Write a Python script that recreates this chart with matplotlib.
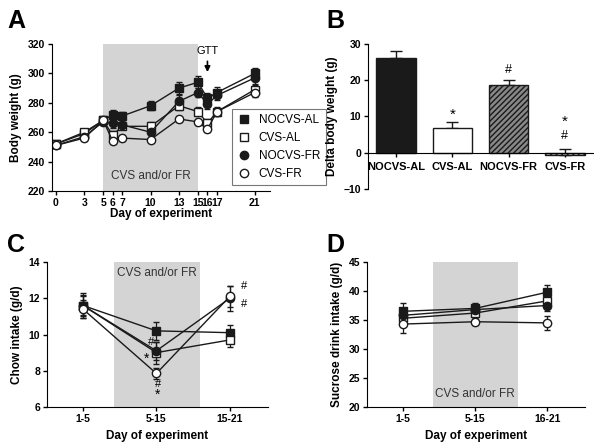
import matplotlib
matplotlib.use("Agg")
import matplotlib.pyplot as plt
from matplotlib.lines import Line2D
import numpy as np

plt.rcParams['font.family'] = ['Liberation Sans', 'DejaVu Sans']

groups = ['NOCVS-AL', 'CVS-AL', 'NOCVS-FR', 'CVS-FR']

# panel A: body weight
days = [0, 3, 5, 6, 7, 10, 13, 15, 16, 17, 21]
bw = {
    'NOCVS-AL': [252, 259, 268, 272, 271, 278, 290, 294, 283, 287, 300],
    'CVS-AL':   [252, 260, 268, 258, 264, 264, 278, 274, 266, 274, 289],
    'NOCVS-FR': [251, 257, 267, 266, 265, 260, 281, 287, 279, 285, 297],
    'CVS-FR':   [251, 256, 268, 254, 256, 255, 269, 267, 262, 274, 287],
}
bw_err = {
    'NOCVS-AL': [2, 2, 2, 3, 3, 3, 4, 4, 4, 4, 4],
    'CVS-AL':   [2, 2, 2, 3, 2, 3, 3, 3, 3, 3, 3],
    'NOCVS-FR': [2, 2, 2, 3, 3, 3, 4, 3, 3, 3, 4],
    'CVS-FR':   [2, 2, 2, 2, 2, 2, 2, 2, 2, 2, 3],
}

# panel B: delta body weight
delta = [26.0, 6.8, 18.8, -0.7]
delta_err = [2.0, 1.8, 1.2, 1.8]

# panel C: chow intake
periods_c = ['1-5', '5-15', '15-21']
chow = {
    'NOCVS-AL': [11.6, 10.2, 10.1],
    'CVS-AL':   [11.6, 9.0, 9.7],
    'NOCVS-FR': [11.6, 9.1, 12.0],
    'CVS-FR':   [11.4, 7.85, 12.1],
}
chow_err = {
    'NOCVS-AL': [0.7, 0.5, 0.4],
    'CVS-AL':   [0.5, 0.6, 0.4],
    'NOCVS-FR': [0.6, 0.5, 0.7],
    'CVS-FR':   [0.5, 0.3, 0.6],
}

# panel D: sucrose intake
periods_d = ['1-5', '5-15', '16-21']
sucrose = {
    'NOCVS-AL': [36.5, 37.0, 39.8],
    'CVS-AL':   [35.3, 36.2, 38.3],
    'NOCVS-FR': [35.8, 36.8, 37.5],
    'CVS-FR':   [34.3, 34.7, 34.5],
}
sucrose_err = {
    'NOCVS-AL': [1.5, 1.0, 1.2],
    'CVS-AL':   [1.2, 0.8, 1.0],
    'NOCVS-FR': [1.3, 0.8, 1.0],
    'CVS-FR':   [1.5, 0.5, 1.2],
}

styles = {
    'NOCVS-AL': dict(marker='s', mfc='#1a1a1a'),
    'CVS-AL':   dict(marker='s', mfc='white'),
    'NOCVS-FR': dict(marker='o', mfc='#1a1a1a'),
    'CVS-FR':   dict(marker='o', mfc='white'),
}

shade = '#d4d4d4'
tick_kw = dict(labelsize=7.5, width=1, length=3, pad=2)


def style_axes(ax):
    for s in ['top', 'right']:
        ax.spines[s].set_visible(False)
    ax.tick_params(**tick_kw)
    for lab in ax.get_xticklabels() + ax.get_yticklabels():
        lab.set_fontweight('bold')


def draw_series(ax, x, data, err):
    for g in groups:
        ax.errorbar(x, data[g], yerr=err[g], color='#1a1a1a', lw=1,
                    ms=6, mec='#1a1a1a', mew=1, capsize=2, elinewidth=0.9,
                    **styles[g])


fig = plt.figure(figsize=(6, 4.48), dpi=100)
W, H = 600, 448


def add_ax(l, r, t, b):
    return fig.add_axes([l / W, 1 - b / H, (r - l) / W, (b - t) / H])


# A
axA = add_ax(52, 270, 44, 191)
axA.axvspan(5, 15, color=shade, lw=0, zorder=0)
draw_series(axA, days, bw, bw_err)
axA.set_xlim(-0.4, 22.6)
axA.set_ylim(220, 320)
axA.set_xticks(days)
axA.set_yticks(range(220, 321, 20))
axA.set_xlabel('Day of experiment', fontsize=8.5, fontweight='bold', labelpad=0)
axA.set_ylabel('Body weight (g)', fontsize=8.5, fontweight='bold')
axA.text(10, 226, 'CVS and/or FR', ha='center', va='bottom', fontsize=8.5, color='#333333')
axA.annotate('GTT', xy=(16, 299), xytext=(16, 312), ha='center', va='bottom',
             fontsize=8, arrowprops=dict(arrowstyle='-|>', color='black', lw=1.2))
style_axes(axA)
handles = [Line2D([], [], ls='none', ms=6, mec='#1a1a1a', mew=1, **styles[g]) for g in groups]
leg = axA.legend(handles, groups, loc='upper left', bbox_to_anchor=(0.8, 0.6), fontsize=8.5,
                 frameon=True, fancybox=False, edgecolor='#555555', handlelength=1.0,
                 handletextpad=0.8, labelspacing=0.5, borderpad=0.45)
leg.get_frame().set_linewidth(0.8)
fig.text(7 / W, 1 - 28 / H, 'A', fontsize=18, fontweight='bold', va='baseline')

# B
axB = add_ax(368, 593, 44, 189)
xb = np.arange(len(groups))
colors = ['#1a1a1a', 'white', '#888888', '#cccccc']
hatches = [None, None, '//////', '//////']
bars = axB.bar(xb, delta, width=0.7, color=colors, edgecolor='#1a1a1a', lw=1, zorder=2)
for b, h in zip(bars, hatches):
    if h:
        b.set_hatch(h)
axB.errorbar(xb, delta, yerr=[np.zeros(4), delta_err], fmt='none', ecolor='#1a1a1a',
             capsize=4, elinewidth=1, zorder=1)
axB.set_xlim(-0.5, 3.5)
axB.set_ylim(-10, 30)
axB.set_yticks(range(-10, 31, 10))
axB.set_xticks(xb)
axB.set_xticklabels(groups)
axB.spines['bottom'].set_position(('data', 0))
axB.set_ylabel('Delta body weight (g)', fontsize=8.5, fontweight='bold')
style_axes(axB)
axB.tick_params(axis='x', labelsize=8, pad=4)
axB.text(1, 10.5, '*', ha='center', va='center', fontsize=11)
axB.text(2, 22.8, '#', ha='center', va='center', fontsize=9)
axB.text(3, 8.6, '*', ha='center', va='center', fontsize=11)
axB.text(3, 4.6, '#', ha='center', va='center', fontsize=9)
fig.text(326 / W, 1 - 28 / H, 'B', fontsize=18, fontweight='bold', va='baseline')

# C
axC = add_ax(47, 268, 262, 407)
xc = np.arange(3)
axC.axvspan(0.42, 1.59, color=shade, lw=0, zorder=0)
draw_series(axC, xc, chow, chow_err)
axC.set_xlim(-0.49, 2.52)
axC.set_ylim(6, 14)
axC.set_yticks(range(6, 15, 2))
axC.set_xticks(xc)
axC.set_xticklabels(periods_c)
axC.set_xlabel('Day of experiment', fontsize=8.5, fontweight='bold', labelpad=4)
axC.set_ylabel('Chow intake (g/d)', fontsize=8.5, fontweight='bold')
axC.text(1, 13.7, 'CVS and/or FR', ha='center', va='top', fontsize=8.5, color='#333333')
axC.text(0.93, 9.3, '#', ha='center', va='bottom', fontsize=8)
axC.text(0.87, 8.3, '*', ha='center', va='bottom', fontsize=10)
axC.text(1.02, 7.0, '#', ha='center', va='bottom', fontsize=8)
axC.text(1.02, 6.3, '*', ha='center', va='bottom', fontsize=10)
axC.text(2.2, 12.4, '#', ha='center', va='bottom', fontsize=8)
axC.text(2.2, 11.4, '#', ha='center', va='bottom', fontsize=8)
style_axes(axC)
fig.text(7 / W, 1 - 252 / H, 'C', fontsize=18, fontweight='bold', va='baseline')

# D
axD = add_ax(367, 585, 262, 407)
axD.axvspan(0.41, 1.59, color=shade, lw=0, zorder=0)
draw_series(axD, xc, sucrose, sucrose_err)
axD.set_xlim(-0.5, 2.52)
axD.set_ylim(20, 45)
axD.set_yticks(range(20, 46, 5))
axD.set_xticks(xc)
axD.set_xticklabels(periods_d)
axD.set_xlabel('Day of experiment', fontsize=8.5, fontweight='bold', labelpad=4)
axD.set_ylabel('Sucrose drink intake (g/d)', fontsize=8.5, fontweight='bold')
axD.text(1, 21.2, 'CVS and/or FR', ha='center', va='bottom', fontsize=8.5, color='#333333')
style_axes(axD)
fig.text(326 / W, 1 - 252 / H, 'D', fontsize=18, fontweight='bold', va='baseline')

fig.savefig('out.png', dpi=100)
